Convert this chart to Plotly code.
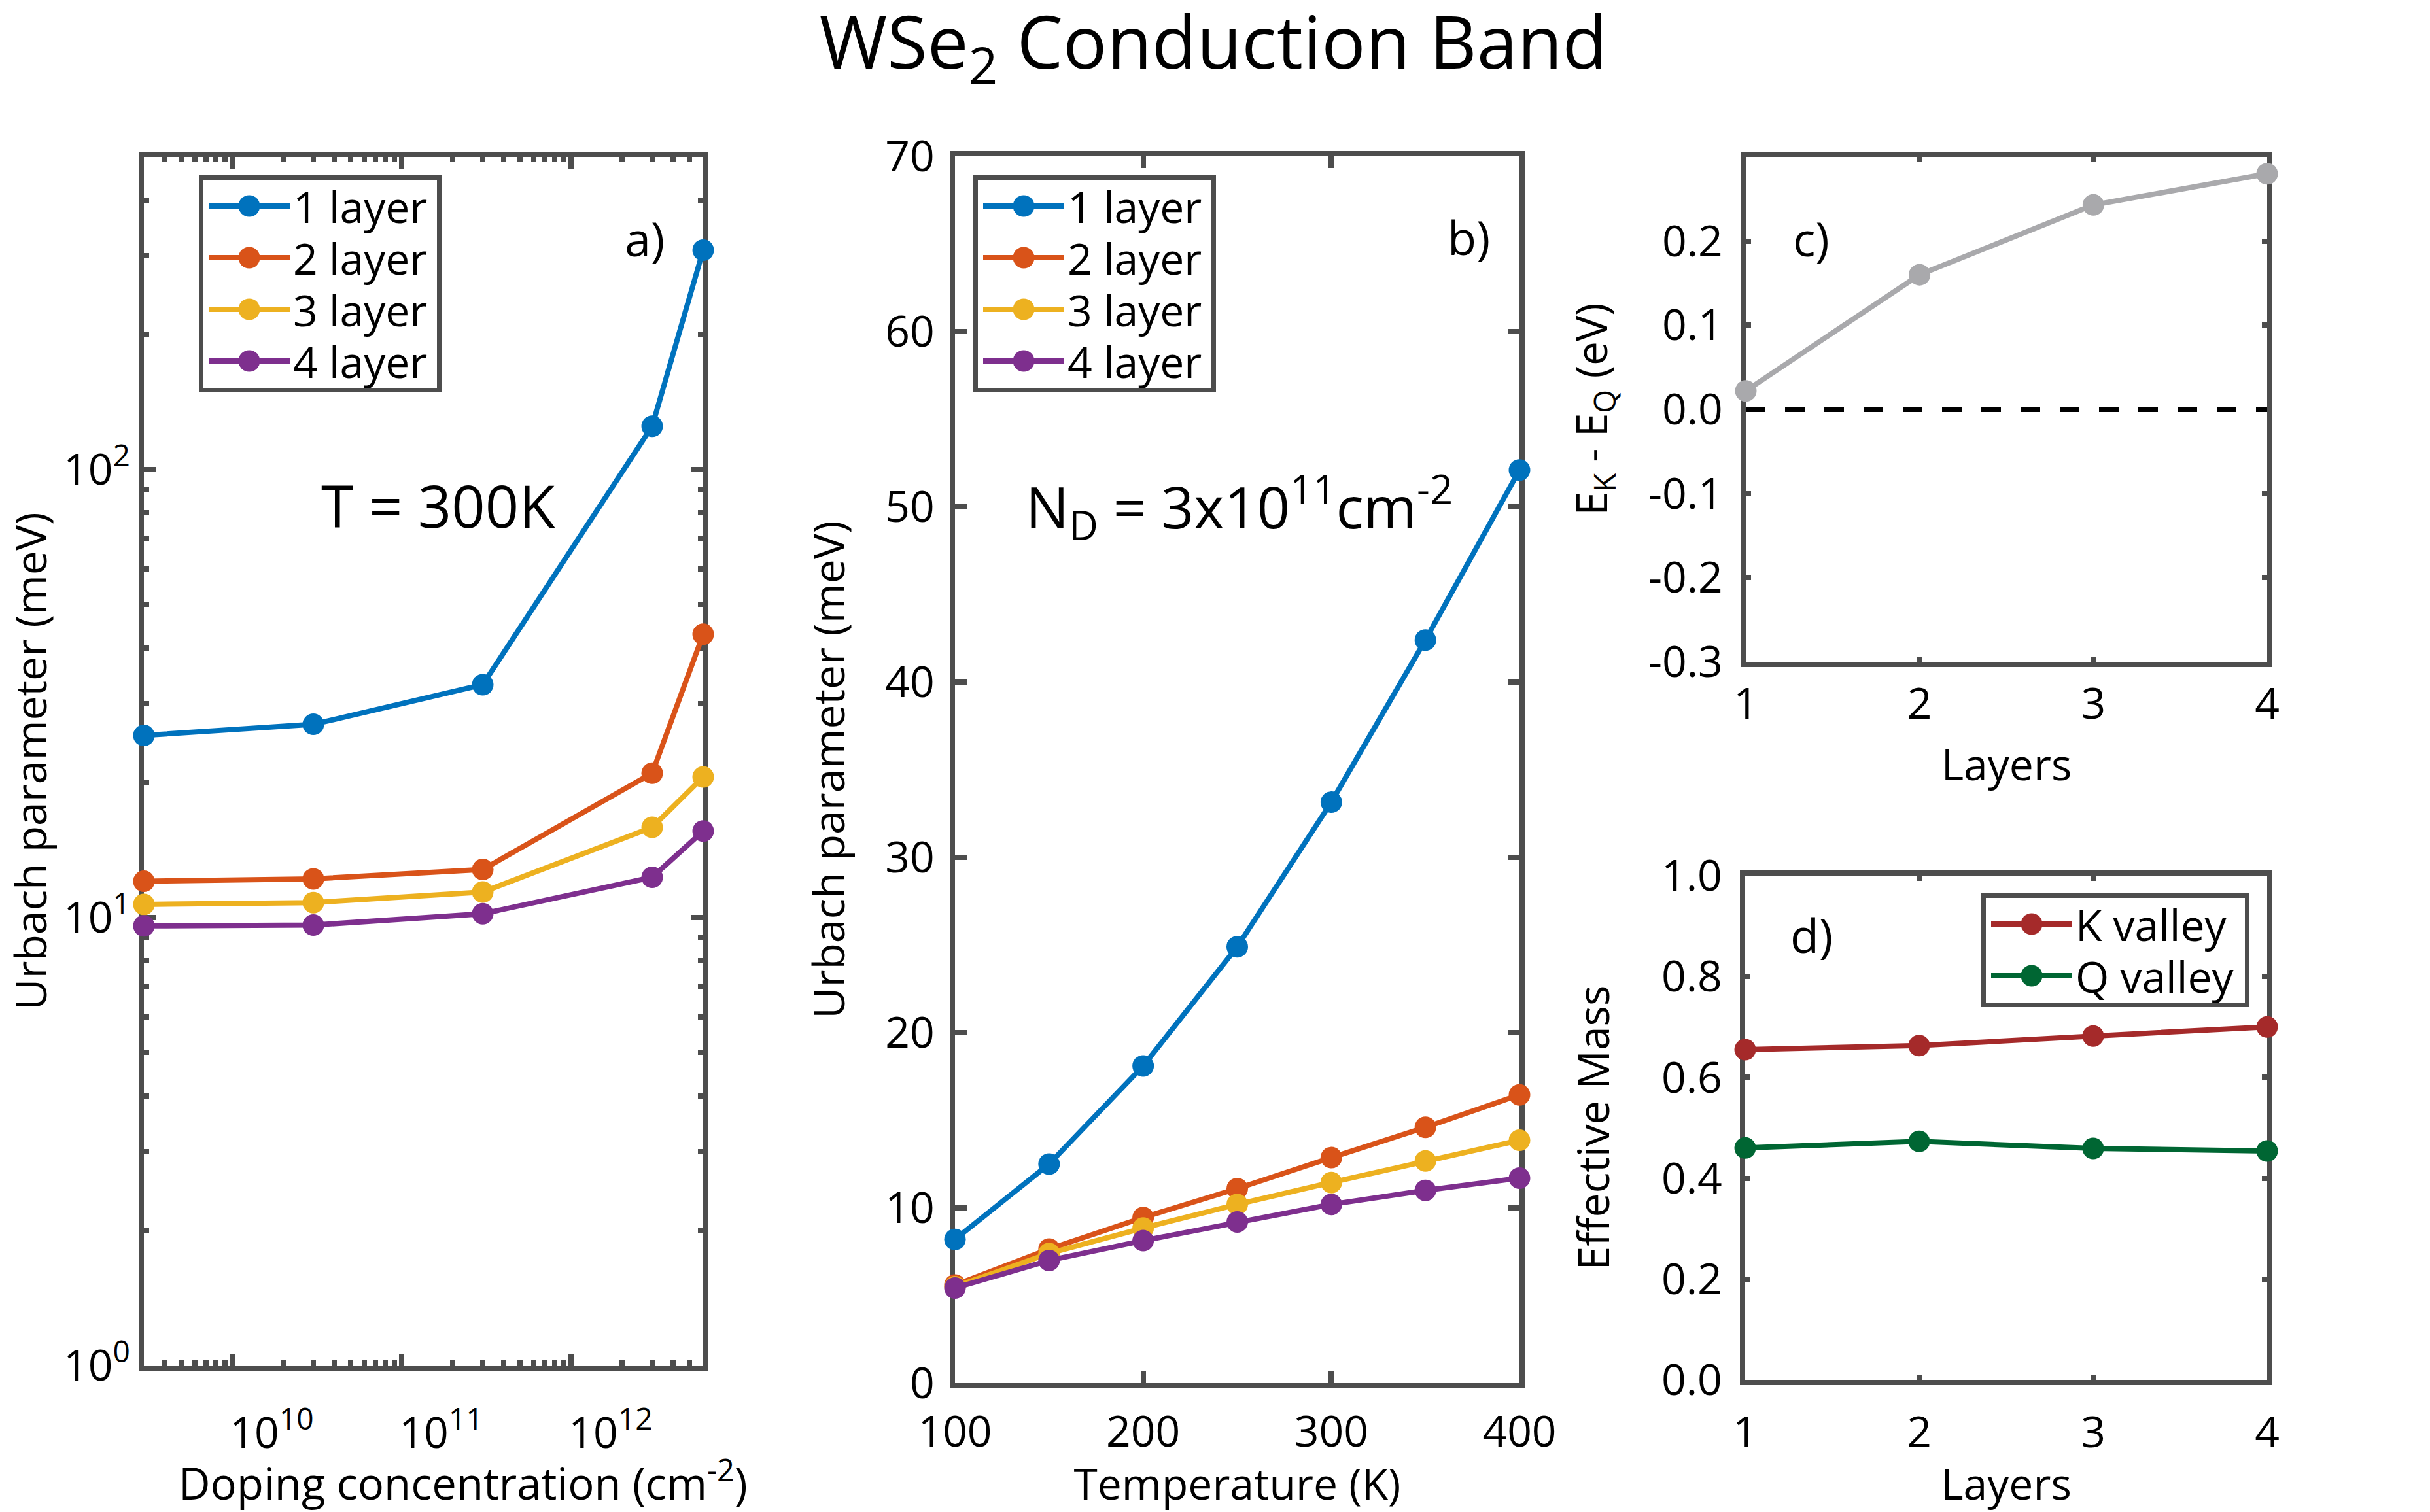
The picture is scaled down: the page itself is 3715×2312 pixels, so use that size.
import plotly.graph_objects as go

# ---- data ----
doping = [3e9, 3e10, 3e11, 3e12, 6e12]
a_1 = [25.5, 27.0, 33.1, 125, 309]
a_2 = [12.05, 12.2, 12.8, 21, 42.9]
a_3 = [10.7, 10.8, 11.4, 15.9, 20.6]
a_4 = [9.58, 9.62, 10.2, 12.3, 15.6]

temps = [100, 150, 200, 250, 300, 350, 400]
b_1 = [8.2, 12.5, 18.1, 24.9, 33.15, 42.4, 52.1]
b_2 = [5.6, 7.65, 9.45, 11.1, 12.87, 14.6, 16.45]
b_3 = [5.5, 7.4, 8.85, 10.2, 11.45, 12.68, 13.86]
b_4 = [5.43, 7.0, 8.13, 9.2, 10.2, 11.0, 11.7]

layers = [1, 2, 3, 4]
ek_eq = [0.022, 0.16, 0.243, 0.28]
zero_line = [0, 0, 0, 0]
m_k = [0.655, 0.663, 0.682, 0.70]
m_q = [0.46, 0.473, 0.459, 0.454]

names = ["1 layer", "2 layer", "3 layer", "4 layer"]
colors = ["#0072BD", "#D95319", "#EDB120", "#7E2F8E"]

W, H = 3715, 2312
FONT = "Open Sans"
FRAME = "#4d4d4d"
TICK = 66
LW, MS = 8, 33


def dom_x(a, b):
    return [a / W, b / W]


def dom_y(top, bottom):
    return [1 - bottom / H, 1 - top / H]


fig = go.Figure()


def line(x, y, name, color, ax, legend=None):
    fig.add_trace(go.Scatter(
        x=x, y=y, name=name, mode="lines+markers", cliponaxis=False,
        line=dict(color=color, width=LW),
        marker=dict(color=color, size=MS),
        xaxis="x" + ax, yaxis="y" + ax,
        legend=legend, showlegend=legend is not None,
    ))


for vals, n, c in zip([a_1, a_2, a_3, a_4], names, colors):
    line(doping, vals, n, c, "", "legend")
for vals, n, c in zip([b_1, b_2, b_3, b_4], names, colors):
    line(temps, vals, n, c, "2", "legend2")
fig.add_trace(go.Scatter(x=layers, y=zero_line, mode="lines", showlegend=False,
                         line=dict(color="black", width=8, dash="30px,30px"),
                         xaxis="x3", yaxis="y3"))
line(layers, ek_eq, "EK-EQ", "#A9A9AC", "3")
line(layers, m_k, "K valley", "#A52A2A", "4", "legend3")
line(layers, m_q, "Q valley", "#006633", "4", "legend3")

base = dict(showline=True, mirror="ticks", linecolor=FRAME, linewidth=8, ticks="inside",
            tickcolor=FRAME, tickwidth=8, ticklen=8, layer="below traces", showgrid=False,
            zeroline=False, automargin=False,
            tickfont=dict(family=FONT, size=TICK, color="black"))


def title(text, standoff):
    return dict(text=text, standoff=standoff, font=dict(family=FONT, size=TICK, color="black"))


minor_x = [m * 10 ** e for e in range(9, 13) for m in range(2, 10) if 3e9 < m * 10 ** e < 6e12]
minor_y = [m * 10 ** e for e in range(0, 3) for m in range(2, 10) if m * 10 ** e < 500]
major_x = [1e10, 1e11, 1e12]
major_y = [1, 10, 100]
minor_style = dict(ticks="inside", ticklen=8, tickcolor=FRAME, tickwidth=8)

fig.update_layout(
    width=W, height=H, margin=dict(l=0, r=0, t=0, b=0),
    paper_bgcolor="white", plot_bgcolor="white",
    title=dict(text="WSe<sub>2</sub> Conduction Band", x=1855 / W, xanchor="center",
               y=1 - 66 / H, yanchor="middle", font=dict(family=FONT, size=112, color="black")),
    xaxis=dict(base, type="log", domain=dom_x(220, 1075), range=[9.4771, 12.7782],
               tickvals=major_x, ticktext=["10<sup>10</sup>", "10<sup>11</sup>", "10<sup>12</sup>"],
               ticklen=18, anchor="y", minor=dict(minor_style, tickvals=minor_x),
               ticklabelstandoff=39, ticklabelshift=60),
    yaxis=dict(base, type="log", domain=dom_y(240, 2088), range=[0, 2.698],
               tickvals=major_y, ticktext=["10<sup>0</sup>", "10<sup>1</sup>", "10<sup>2</sup>"],
               ticklen=18, anchor="x", minor=dict(minor_style, tickvals=minor_y),
               ticklabelstandoff=0, title=title("Urbach parameter (meV)", 60)),
    xaxis2=dict(base, domain=dom_x(1460, 2323), range=[100, 400], tickvals=[100, 200, 300, 400], anchor="y2",
                ticklen=18, ticklabelstandoff=10, title=title("Temperature (K)", 18)),
    yaxis2=dict(base, domain=dom_y(239, 2115), range=[0, 70], tickvals=list(range(0, 71, 10)), anchor="x2",
                ticklen=18, ticklabelstandoff=10, title=title("Urbach parameter (meV)", 43)),
    xaxis3=dict(base, domain=dom_x(2669, 3466), range=[1, 4], tickvals=layers, anchor="y3",
                ticklabelstandoff=0, title=title("Layers", 33)),
    yaxis3=dict(base, domain=dom_y(240, 1012), range=[-0.3, 0.3],
                tickvals=[-0.3, -0.2, -0.1, 0, 0.1, 0.2],
                ticktext=["-0.3", "-0.2", "-0.1", "0.0", "0.1", "0.2"], anchor="x3",
                ticklabelstandoff=14, title=title("E<sub>K</sub> - E<sub>Q</sub> (eV)", 44)),
    xaxis4=dict(base, domain=dom_x(2668, 3466), range=[1, 4], tickvals=layers, anchor="y4",
                ticklabelstandoff=16, title=title("Layers", 20)),
    yaxis4=dict(base, domain=dom_y(1339, 2110), range=[0, 1],
                tickvals=[0, 0.2, 0.4, 0.6, 0.8, 1.0],
                ticktext=["0.0", "0.2", "0.4", "0.6", "0.8", "1.0"], anchor="x4",
                ticklabelstandoff=14, title=title("Effective Mass", 61)),
)


def legend(x, y):
    return dict(x=x / W, y=1 - y / H, xanchor="left", yanchor="top", bgcolor="white",
                bordercolor=FRAME, borderwidth=7, itemwidth=124, tracegroupgap=0,
                font=dict(family=FONT, size=TICK, color="black"))


fig.update_layout(legend=legend(304, 268), legend2=legend(1488, 268), legend3=legend(3029, 1366))


def note(text, x, y, size):
    fig.add_annotation(text=text, xref="paper", yref="paper", x=x / W, y=1 - y / H,
                       showarrow=False, xanchor="center", yanchor="middle",
                       font=dict(family=FONT, size=size, color="black"))


note("a)", 985, 364, 72)
note("T = 300K", 670, 772, 90)
note("b)", 2245, 362, 72)
note("N<sub>D</sub> = 3x10<sup>11</sup>cm<sup>-2</sup>", 1894, 775, 88)
note("c)", 2769, 364, 72)
note("d)", 2769, 1429, 72)
note("Doping concentration (cm<sup>-2</sup>)", 708, 2264, 67)

# plotly caps legend key sizes and ties row spacing to the font; match the reference keys
post = """
document.body.style.margin = '0';
[['.legend',364,325],['.legend2',364,325],['.legend3',403,167]].forEach(function(spec){
  document.querySelectorAll(spec[0]).forEach(function(lg){
    lg.querySelectorAll('.traces').forEach(function(t,i){
      var m = /translate\\(([-\\d.]+)/.exec(t.getAttribute('transform'));
      t.setAttribute('transform','translate('+(parseFloat(m[1])+3)+','+(47+i*79)+')');
    });
    lg.querySelectorAll('.bg').forEach(function(b){
      b.setAttribute('width', spec[1]);
      b.setAttribute('height', spec[2]);
    });
    lg.querySelectorAll('.legendlines path').forEach(function(p){ p.style.strokeWidth='8px'; });
    lg.querySelectorAll('.legendpoints path').forEach(function(p){
      p.setAttribute('d','M16.5,0A16.5,16.5 0 1,1 0,-16.5A16.5,16.5 0 0,1 16.5,0Z');
    });
  });
});
"""
fig.write_html("out.html", post_script=post, config={"displayModeBar": False})
